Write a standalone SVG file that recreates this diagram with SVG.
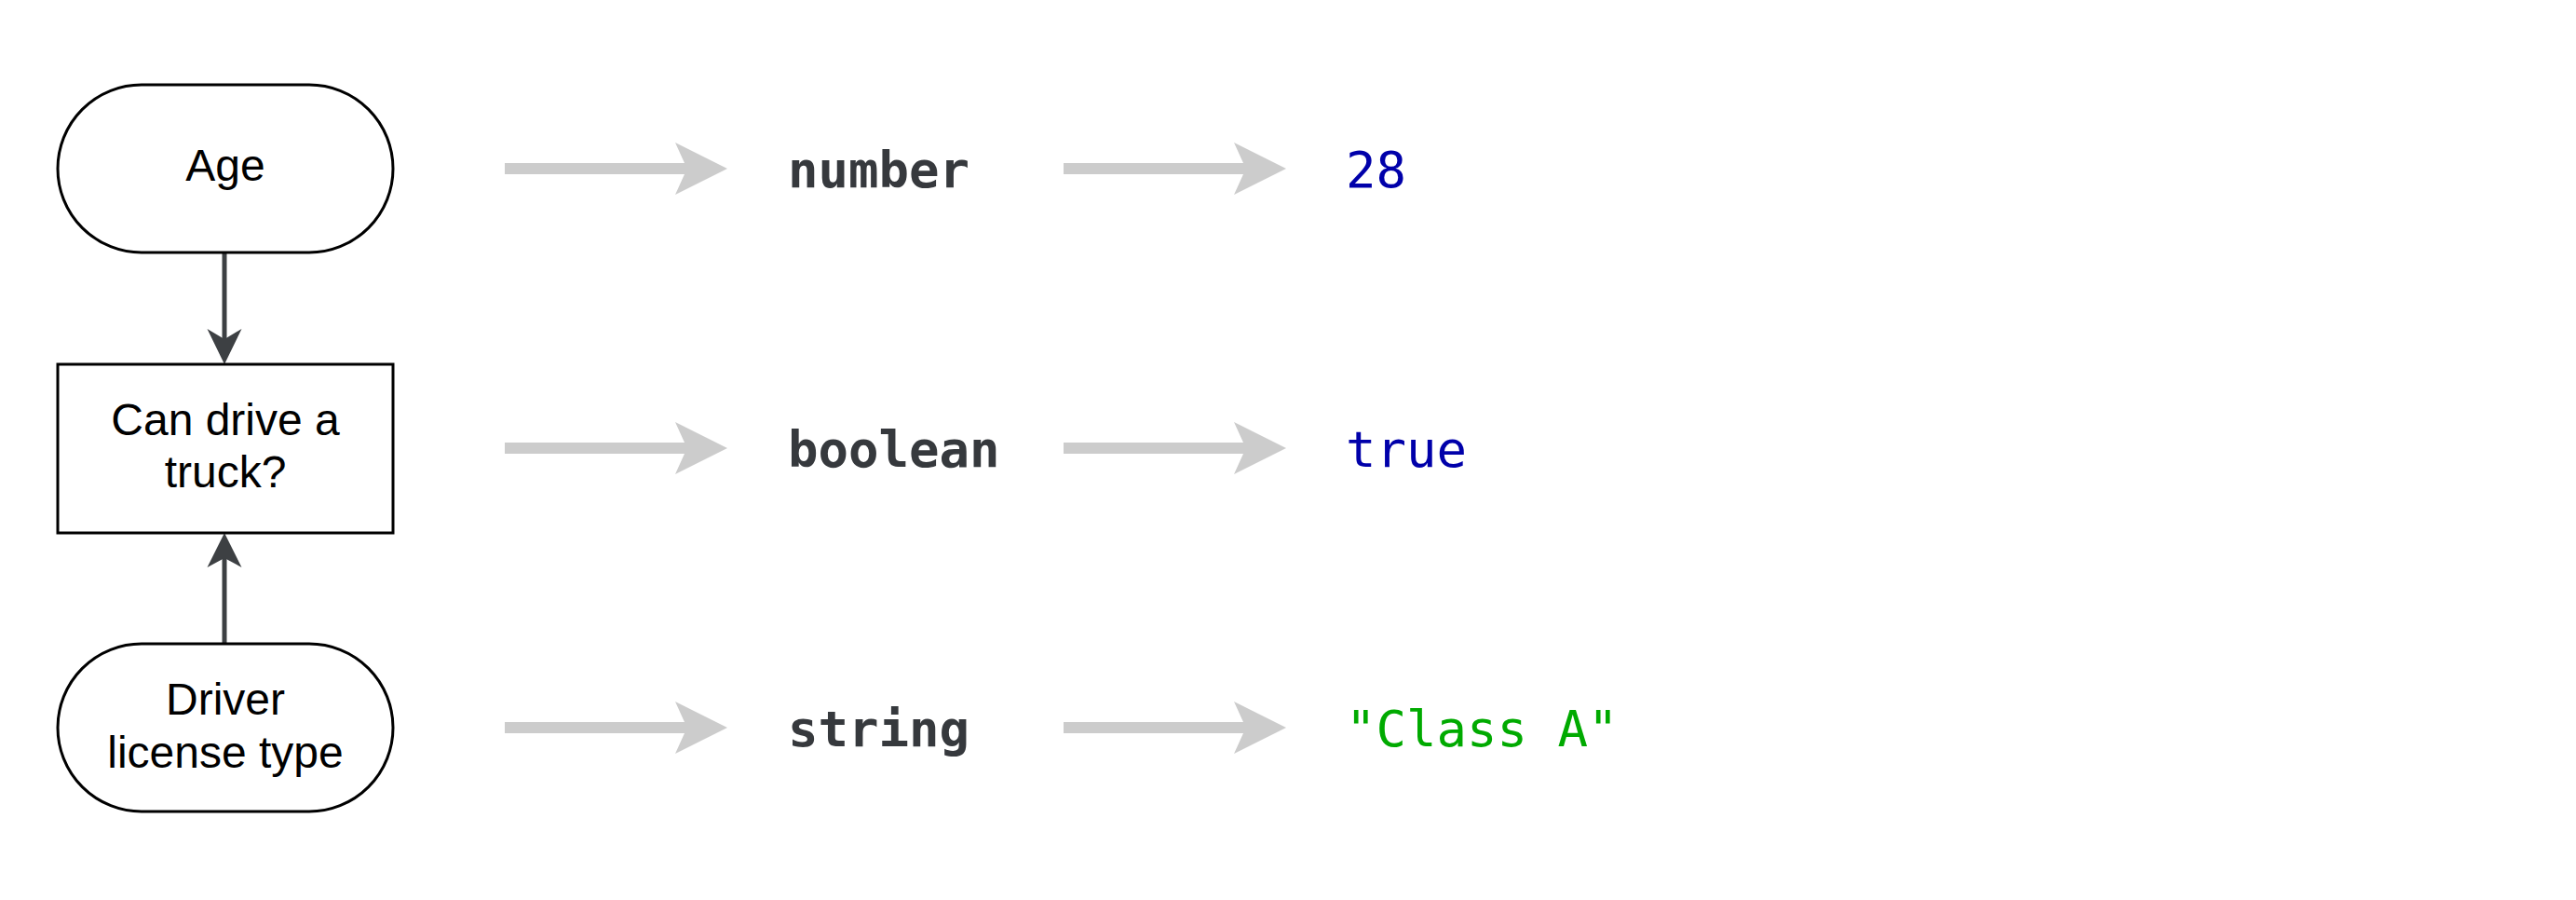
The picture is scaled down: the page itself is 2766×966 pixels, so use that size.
<svg xmlns="http://www.w3.org/2000/svg" width="2766" height="966" viewBox="0 0 2766 966">
<style>
.node{fill:#ffffff;stroke:#000000;stroke-width:3}
.lbl{font-family:"Liberation Sans",Arial,sans-serif;font-size:48px;fill:#000000;text-anchor:middle}
.type{font-family:"DejaVu Sans Mono",monospace;font-size:54px;font-weight:bold;fill:#36393d}
.val{font-family:"DejaVu Sans Mono",monospace;font-size:54px}
.blue{fill:#0000aa}
.green{fill:#00aa00}
.edge{stroke:#3d4043;stroke-width:5;fill:none}
.head{fill:#3d4043}
.garrow{fill:#cccccc}
</style>
<defs>
<path id="ga" d="M0,-6 L193,-6 L183,-28 L239,0 L183,28 L193,6 L0,6 Z"/>
</defs>
<rect width="2766" height="966" fill="#ffffff"/>
<g id="connectors">
<line class="edge" x1="241" y1="271" x2="241" y2="366"/>
<polygon class="head" points="222.5,353 241,391 259.5,353 241,364"/>
<line class="edge" x1="241" y1="691" x2="241" y2="597"/>
<polygon class="head" points="222.5,609 241,572 259.5,609 241,599"/>
<use href="#ga" class="garrow" x="542" y="181"/>
<use href="#ga" class="garrow" x="1142" y="181"/>
<use href="#ga" class="garrow" x="542" y="481"/>
<use href="#ga" class="garrow" x="1142" y="481"/>
<use href="#ga" class="garrow" x="542" y="781"/>
<use href="#ga" class="garrow" x="1142" y="781"/>
</g>
<g id="age">
<rect class="node" x="62" y="91" width="360" height="180" rx="90" ry="90"/>
<text class="lbl" x="242" y="194">Age</text>
</g>
<g id="truck">
<rect class="node" x="62" y="391" width="360" height="181"/>
<text class="lbl" x="242" y="467">Can drive a</text>
<text class="lbl" x="242" y="523">truck?</text>
</g>
<g id="license">
<rect class="node" x="62" y="691" width="360" height="180" rx="90" ry="90"/>
<text class="lbl" x="242" y="767">Driver</text>
<text class="lbl" x="242" y="824">license type</text>
</g>
<g id="type-number"><text class="type" x="846" y="201">number</text></g>
<g id="type-boolean"><text class="type" x="846" y="501">boolean</text></g>
<g id="type-string"><text class="type" x="846" y="801">string</text></g>
<g id="val-28"><text class="val blue" x="1445" y="201">28</text></g>
<g id="val-true"><text class="val blue" x="1445" y="501">true</text></g>
<g id="val-class"><text class="val green" x="1445" y="801">"Class A"</text></g>
</svg>
